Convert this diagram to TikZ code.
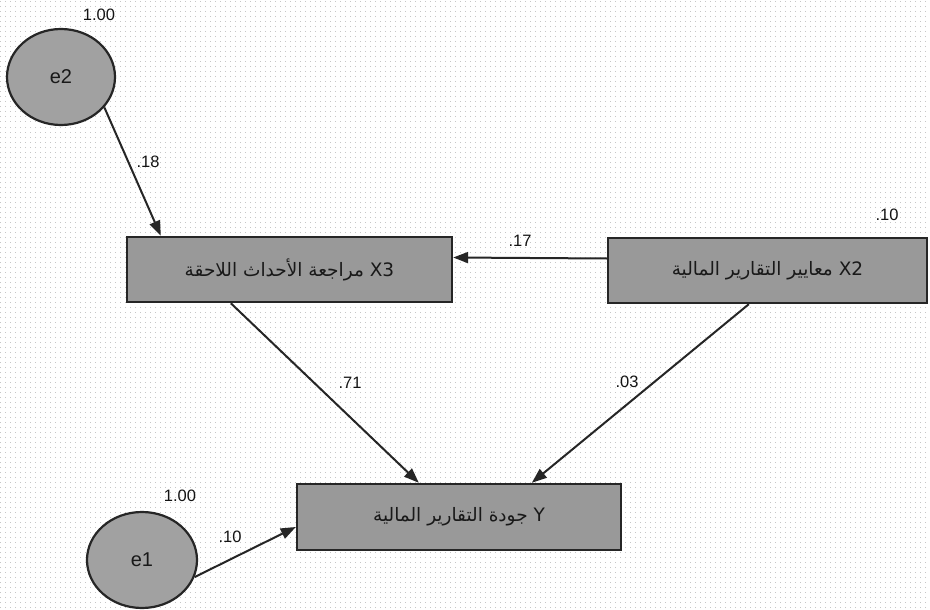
\documentclass[tikz,border=0pt]{standalone}
\usepackage{fontspec}
\setmainfont{Liberation Sans}
\newfontfamily\arabicfont[Script=Arabic]{DejaVu Sans}
\TeXXeTstate=1
\usetikzlibrary{arrows.meta,shapes.geometric,calc}
\begin{document}
\begin{tikzpicture}[x=1pt,y=-1pt,
  varbox/.style={draw=black!85,line width=2.4pt,fill=gray!80,rectangle,inner sep=0pt,
    font=\arabicfont\fontsize{18.5}{20}\selectfont,text=black!90},
  errnode/.style={draw=black!85,line width=2.2pt,fill=gray!74,ellipse,inner sep=0pt,
    font=\fontsize{20}{22}\selectfont,text=black!90},
  path/.style={draw=black!85,line width=2pt,-{Triangle[length=15pt,width=11pt]}},
  coef/.style={font=\fontsize{16.5}{18}\selectfont,text=black!92,inner sep=1pt}]
  % canvas and dotted grid
  \fill[white] (0,0) rectangle (930,610);
  \useasboundingbox (0,0) rectangle (930,610);
  \foreach \yy in {2,7,...,610}
    \draw[gray!45,line width=1pt,dash pattern=on 1pt off 4pt] (0,\yy) -- (930,\yy);

  % observed variables
  \node[varbox,minimum width=325pt,minimum height=65pt] (X3) at (289.5,269.5)
    {\beginR\beginL X3\endL{} مراجعة الأحداث اللاحقة\endR};
  \node[varbox,minimum width=319pt,minimum height=65pt] (X2) at (767.5,270.5)
    {\beginR\beginL X2\endL{} معايير التقارير المالية\endR};
  \node[varbox,minimum width=324pt,minimum height=66pt] (Y) at (459,517)
    {\beginR\beginL Y\endL{} جودة التقارير المالية\endR};

  % error terms
  \node[errnode,minimum width=108pt,minimum height=96pt] (e2) at (61,77) {e2};
  \node[errnode,minimum width=110pt,minimum height=96pt] (e1) at (142,560) {e1};

  % paths
  \draw[path] (e2.-35) -- ([xshift=35pt]X3.north west);
  \draw[path] ([yshift=12pt]X2.west) -- ([yshift=12pt]X3.east);
  \draw[path] ([xshift=105pt]X3.south west) -- ([xshift=123pt]Y.north west);
  \draw[path] ([xshift=142pt]X2.south west) -- ([xshift=236pt]Y.north west);
  \draw[path] (e1.-18) -- ([yshift=-10pt]Y.west);

  % estimates
  \node[coef] (ve2) at (99,15) {1.00};
  \node[coef] (p18) at (148,162) {.18};
  \node[coef] (p17) at (520,241) {.17};
  \node[coef] (vx2) at (887,215) {.10};
  \node[coef] (p71) at (350,383) {.71};
  \node[coef] (p03) at (627,382) {.03};
  \node[coef] (ve1) at (180,496) {1.00};
  \node[coef] (p10) at (230,537) {.10};
\end{tikzpicture}
\end{document}
